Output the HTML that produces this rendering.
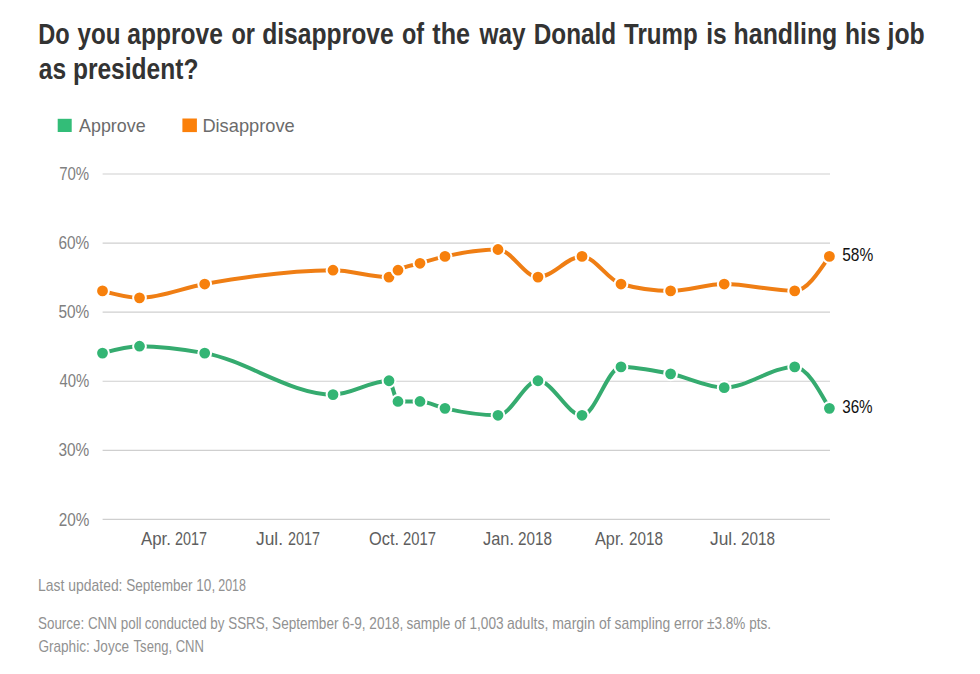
<!DOCTYPE html>
<html><head><meta charset="utf-8"><style>
html,body{margin:0;padding:0;background:#fff;width:980px;height:674px;overflow:hidden}
svg{display:block}

text{font-family:"Liberation Sans",sans-serif}
.ti{font-size:29.4px;font-weight:bold;fill:#333}
.lg{font-size:17.7px;fill:#6b6b6b}
.ax{font-size:18.6px;fill:#808080}
.xl{font-size:18.9px;fill:#5e5e5e}
.el{font-size:18.6px;fill:#111}
.ft{font-size:16.2px;fill:#919191}
</style></head><body>
<svg width="980" height="674" viewBox="0 0 980 674">
<line x1="102.6" x2="830" y1="174.00" y2="174.00" stroke="#cfcfcf" stroke-width="1.2"/>
<line x1="102.6" x2="830" y1="243.08" y2="243.08" stroke="#cfcfcf" stroke-width="1.2"/>
<line x1="102.6" x2="830" y1="312.16" y2="312.16" stroke="#cfcfcf" stroke-width="1.2"/>
<line x1="102.6" x2="830" y1="381.24" y2="381.24" stroke="#cfcfcf" stroke-width="1.2"/>
<line x1="102.6" x2="830" y1="450.32" y2="450.32" stroke="#cfcfcf" stroke-width="1.2"/>
<line x1="102.6" x2="830" y1="519.40" y2="519.40" stroke="#cfcfcf" stroke-width="1.2"/>
<path d="M102.50,290.94C114.83,294.39,127.17,297.84,139.50,297.84C161.23,297.84,182.97,287.87,204.70,284.03C247.47,276.47,290.23,270.21,333.00,270.21C351.67,270.21,370.33,277.12,389.00,277.12C392.00,277.12,395.00,272.10,398.00,270.21C405.33,265.61,412.67,265.48,420.00,263.30C428.33,260.83,436.67,258.31,445.00,256.40C462.67,252.34,480.33,249.49,498.00,249.49C511.33,249.49,524.67,277.12,538.00,277.12C552.67,277.12,567.33,256.40,582.00,256.40C595.00,256.40,608.00,280.41,621.00,284.03C637.53,288.63,654.07,290.94,670.60,290.94C688.47,290.94,706.33,284.03,724.20,284.03C747.70,284.03,771.20,290.94,794.70,290.94C806.27,290.94,817.83,273.67,829.40,256.40" fill="none" stroke="#ef7e14" stroke-width="4"/>
<path d="M102.50,353.11C114.83,349.65,127.17,346.20,139.50,346.20C161.23,346.20,182.97,349.22,204.70,353.11C247.47,360.77,290.23,394.56,333.00,394.56C351.67,394.56,370.33,380.74,389.00,380.74C392.00,380.74,395.00,401.46,398.00,401.46C405.33,401.46,412.67,401.46,420.00,401.46C428.33,401.46,436.67,406.46,445.00,408.37C462.67,412.43,480.33,415.28,498.00,415.28C511.33,415.28,524.67,380.74,538.00,380.74C552.67,380.74,567.33,415.28,582.00,415.28C595.00,415.28,608.00,366.92,621.00,366.92C637.53,366.92,654.07,370.59,670.60,373.83C688.47,377.34,706.33,387.65,724.20,387.65C747.70,387.65,771.20,366.92,794.70,366.92C806.27,366.92,817.83,387.65,829.40,408.37" fill="none" stroke="#35ab6f" stroke-width="4"/>
<circle cx="102.5" cy="290.94" r="6.4" fill="#f7800c" stroke="#fff" stroke-width="2"/>
<circle cx="139.5" cy="297.84" r="6.4" fill="#f7800c" stroke="#fff" stroke-width="2"/>
<circle cx="204.7" cy="284.03" r="6.4" fill="#f7800c" stroke="#fff" stroke-width="2"/>
<circle cx="333.0" cy="270.21" r="6.4" fill="#f7800c" stroke="#fff" stroke-width="2"/>
<circle cx="389.0" cy="277.12" r="6.4" fill="#f7800c" stroke="#fff" stroke-width="2"/>
<circle cx="398.0" cy="270.21" r="6.4" fill="#f7800c" stroke="#fff" stroke-width="2"/>
<circle cx="420.0" cy="263.30" r="6.4" fill="#f7800c" stroke="#fff" stroke-width="2"/>
<circle cx="445.0" cy="256.40" r="6.4" fill="#f7800c" stroke="#fff" stroke-width="2"/>
<circle cx="498.0" cy="249.49" r="6.4" fill="#f7800c" stroke="#fff" stroke-width="2"/>
<circle cx="538.0" cy="277.12" r="6.4" fill="#f7800c" stroke="#fff" stroke-width="2"/>
<circle cx="582.0" cy="256.40" r="6.4" fill="#f7800c" stroke="#fff" stroke-width="2"/>
<circle cx="621.0" cy="284.03" r="6.4" fill="#f7800c" stroke="#fff" stroke-width="2"/>
<circle cx="670.6" cy="290.94" r="6.4" fill="#f7800c" stroke="#fff" stroke-width="2"/>
<circle cx="724.2" cy="284.03" r="6.4" fill="#f7800c" stroke="#fff" stroke-width="2"/>
<circle cx="794.7" cy="290.94" r="6.4" fill="#f7800c" stroke="#fff" stroke-width="2"/>
<circle cx="829.4" cy="256.40" r="6.4" fill="#f7800c" stroke="#fff" stroke-width="2"/>
<circle cx="102.5" cy="353.11" r="6.4" fill="#33b574" stroke="#fff" stroke-width="2"/>
<circle cx="139.5" cy="346.20" r="6.4" fill="#33b574" stroke="#fff" stroke-width="2"/>
<circle cx="204.7" cy="353.11" r="6.4" fill="#33b574" stroke="#fff" stroke-width="2"/>
<circle cx="333.0" cy="394.56" r="6.4" fill="#33b574" stroke="#fff" stroke-width="2"/>
<circle cx="389.0" cy="380.74" r="6.4" fill="#33b574" stroke="#fff" stroke-width="2"/>
<circle cx="398.0" cy="401.46" r="6.4" fill="#33b574" stroke="#fff" stroke-width="2"/>
<circle cx="420.0" cy="401.46" r="6.4" fill="#33b574" stroke="#fff" stroke-width="2"/>
<circle cx="445.0" cy="408.37" r="6.4" fill="#33b574" stroke="#fff" stroke-width="2"/>
<circle cx="498.0" cy="415.28" r="6.4" fill="#33b574" stroke="#fff" stroke-width="2"/>
<circle cx="538.0" cy="380.74" r="6.4" fill="#33b574" stroke="#fff" stroke-width="2"/>
<circle cx="582.0" cy="415.28" r="6.4" fill="#33b574" stroke="#fff" stroke-width="2"/>
<circle cx="621.0" cy="366.92" r="6.4" fill="#33b574" stroke="#fff" stroke-width="2"/>
<circle cx="670.6" cy="373.83" r="6.4" fill="#33b574" stroke="#fff" stroke-width="2"/>
<circle cx="724.2" cy="387.65" r="6.4" fill="#33b574" stroke="#fff" stroke-width="2"/>
<circle cx="794.7" cy="366.92" r="6.4" fill="#33b574" stroke="#fff" stroke-width="2"/>
<circle cx="829.4" cy="408.37" r="6.4" fill="#33b574" stroke="#fff" stroke-width="2"/>
<rect x="57.7" y="118.8" width="14" height="13.2" fill="#33bd78"/>
<rect x="182.4" y="118.5" width="14.5" height="13.6" fill="#fb800a"/>
<text class="ti" x="38.30" y="43.6" textLength="31.40" lengthAdjust="spacingAndGlyphs">Do</text>
<text class="ti" x="77.50" y="43.6" textLength="43.00" lengthAdjust="spacingAndGlyphs">you</text>
<text class="ti" x="127.30" y="43.6" textLength="95.60" lengthAdjust="spacingAndGlyphs">approve</text>
<text class="ti" x="231.50" y="43.6" textLength="23.50" lengthAdjust="spacingAndGlyphs">or</text>
<text class="ti" x="262.20" y="43.6" textLength="131.60" lengthAdjust="spacingAndGlyphs">disapprove</text>
<text class="ti" x="401.90" y="43.6" textLength="22.10" lengthAdjust="spacingAndGlyphs">of</text>
<text class="ti" x="432.30" y="43.6" textLength="37.70" lengthAdjust="spacingAndGlyphs">the</text>
<text class="ti" x="479.50" y="43.6" textLength="46.00" lengthAdjust="spacingAndGlyphs">way</text>
<text class="ti" x="533.80" y="43.6" textLength="82.40" lengthAdjust="spacingAndGlyphs">Donald</text>
<text class="ti" x="624.00" y="43.6" textLength="73.60" lengthAdjust="spacingAndGlyphs">Trump</text>
<text class="ti" x="706.20" y="43.6" textLength="20.50" lengthAdjust="spacingAndGlyphs">is</text>
<text class="ti" x="733.60" y="43.6" textLength="103.70" lengthAdjust="spacingAndGlyphs">handling</text>
<text class="ti" x="845.00" y="43.6" textLength="35.50" lengthAdjust="spacingAndGlyphs">his</text>
<text class="ti" x="887.50" y="43.6" textLength="37.20" lengthAdjust="spacingAndGlyphs">job</text>
<text class="ti" x="38.80" y="78.6" textLength="27.30" lengthAdjust="spacingAndGlyphs">as</text>
<text class="ti" x="72.90" y="78.6" textLength="125.60" lengthAdjust="spacingAndGlyphs">president?</text>
<text class="lg" x="79.10" y="131.9" textLength="66.50" lengthAdjust="spacingAndGlyphs">Approve</text>
<text class="lg" x="202.40" y="131.9" textLength="92.30" lengthAdjust="spacingAndGlyphs">Disapprove</text>
<text class="ax" x="59.20" y="179.8" textLength="30.00" lengthAdjust="spacingAndGlyphs">70%</text>
<text class="ax" x="58.50" y="248.9" textLength="30.80" lengthAdjust="spacingAndGlyphs">60%</text>
<text class="ax" x="58.50" y="318.0" textLength="30.80" lengthAdjust="spacingAndGlyphs">50%</text>
<text class="ax" x="59.50" y="387.1" textLength="29.80" lengthAdjust="spacingAndGlyphs">40%</text>
<text class="ax" x="58.50" y="456.2" textLength="30.80" lengthAdjust="spacingAndGlyphs">30%</text>
<text class="ax" x="58.80" y="525.5" textLength="30.60" lengthAdjust="spacingAndGlyphs">20%</text>
<text class="xl" x="141.00" y="544.8" textLength="30.00" lengthAdjust="spacingAndGlyphs">Apr.</text>
<text class="xl" x="175.00" y="544.8" textLength="32.00" lengthAdjust="spacingAndGlyphs">2017</text>
<text class="xl" x="256.00" y="544.8" textLength="27.00" lengthAdjust="spacingAndGlyphs">Jul.</text>
<text class="xl" x="288.00" y="544.8" textLength="32.00" lengthAdjust="spacingAndGlyphs">2017</text>
<text class="xl" x="369.00" y="544.8" textLength="30.00" lengthAdjust="spacingAndGlyphs">Oct.</text>
<text class="xl" x="403.00" y="544.8" textLength="33.00" lengthAdjust="spacingAndGlyphs">2017</text>
<text class="xl" x="483.00" y="544.8" textLength="31.00" lengthAdjust="spacingAndGlyphs">Jan.</text>
<text class="xl" x="518.00" y="544.8" textLength="34.00" lengthAdjust="spacingAndGlyphs">2018</text>
<text class="xl" x="595.00" y="544.8" textLength="29.00" lengthAdjust="spacingAndGlyphs">Apr.</text>
<text class="xl" x="629.00" y="544.8" textLength="34.00" lengthAdjust="spacingAndGlyphs">2018</text>
<text class="xl" x="710.00" y="544.8" textLength="27.00" lengthAdjust="spacingAndGlyphs">Jul.</text>
<text class="xl" x="741.00" y="544.8" textLength="34.00" lengthAdjust="spacingAndGlyphs">2018</text>
<text class="el" x="842.20" y="260.8" textLength="31.00" lengthAdjust="spacingAndGlyphs">58%</text>
<text class="el" x="842.20" y="412.9" textLength="30.40" lengthAdjust="spacingAndGlyphs">36%</text>
<text class="ft" x="38.10" y="591" textLength="84.40" lengthAdjust="spacingAndGlyphs">Last updated:</text>
<text class="ft" x="126.20" y="591" textLength="89.00" lengthAdjust="spacingAndGlyphs">September 10,</text>
<text class="ft" x="218.20" y="591" textLength="27.80" lengthAdjust="spacingAndGlyphs">2018</text>
<text class="ft" x="38.00" y="629.2" textLength="103.60" lengthAdjust="spacingAndGlyphs">Source: CNN poll</text>
<text class="ft" x="144.80" y="629.2" textLength="123.60" lengthAdjust="spacingAndGlyphs">conducted by SSRS,</text>
<text class="ft" x="272.10" y="629.2" textLength="131.20" lengthAdjust="spacingAndGlyphs">September 6-9, 2018,</text>
<text class="ft" x="406.40" y="629.2" textLength="97.20" lengthAdjust="spacingAndGlyphs">sample of 1,003</text>
<text class="ft" x="507.00" y="629.2" textLength="103.60" lengthAdjust="spacingAndGlyphs">adults, margin of</text>
<text class="ft" x="614.60" y="629.2" textLength="88.90" lengthAdjust="spacingAndGlyphs">sampling error</text>
<text class="ft" x="707.10" y="629.2" textLength="63.90" lengthAdjust="spacingAndGlyphs">±3.8% pts.</text>
<text class="ft" x="38.40" y="652.2" textLength="90.70" lengthAdjust="spacingAndGlyphs">Graphic: Joyce</text>
<text class="ft" x="133.60" y="652.2" textLength="70.30" lengthAdjust="spacingAndGlyphs">Tseng, CNN</text>
</svg>
</body></html>
